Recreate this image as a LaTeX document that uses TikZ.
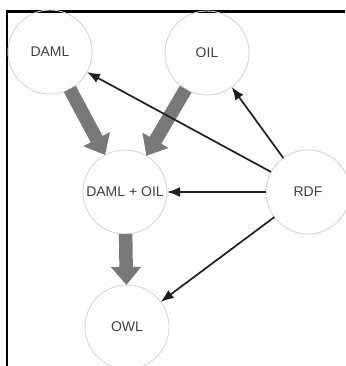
\documentclass[tikz,border=0pt]{standalone}
\usepackage{fontspec}
\setmainfont{Liberation Sans}
\usetikzlibrary{arrows.meta}
\definecolor{ringgray}{HTML}{D6D6D6}
\definecolor{flowgray}{HTML}{787878}
\definecolor{labelgray}{HTML}{404040}
\begin{document}
\begin{tikzpicture}[x=1pt,y=-1pt,
  lang/.style={circle, draw=ringgray, line width=0.9pt, minimum size=84pt,
    inner sep=0pt, outer sep=0pt, text=labelgray,
    font=\fontsize{14}{16}\selectfont},
  evolve/.style={draw=flowgray, line width=13.5pt,
    -{Triangle[length=18pt,width=29pt]}},
  uses/.style={draw=black!88, line width=1.7pt,
    -{Latex[length=13pt,width=10pt]}}]
\fill[white] (0,0) rectangle (345,366);
\useasboundingbox (0,0) rectangle (345,366);

% frame
\draw[line width=3pt] (6,11.7) -- (345,11.7);
\draw[line width=2pt] (7,10.5) -- (7,366);

% languages
\node[lang] (daml) at (50,52)  {DAML};
\node[lang] (oil)  at (207,53) {OIL};
\node[lang] (dlo)  at (125,192) {DAML + OIL};
\node[lang] (rdf)  at (308,192) {RDF};
\node[lang] (owl)  at (127,327) {OWL};

% lineage
\draw[evolve] (daml) -- (dlo);
\draw[evolve] (oil) -- (dlo);
\draw[evolve] (dlo) -- (owl);

% RDF foundations
\draw[uses] (rdf) -- (daml);
\draw[uses] (rdf) -- (oil);
\draw[uses] (rdf) -- (dlo);
\draw[uses] (rdf) -- (owl);
\end{tikzpicture}
\end{document}
